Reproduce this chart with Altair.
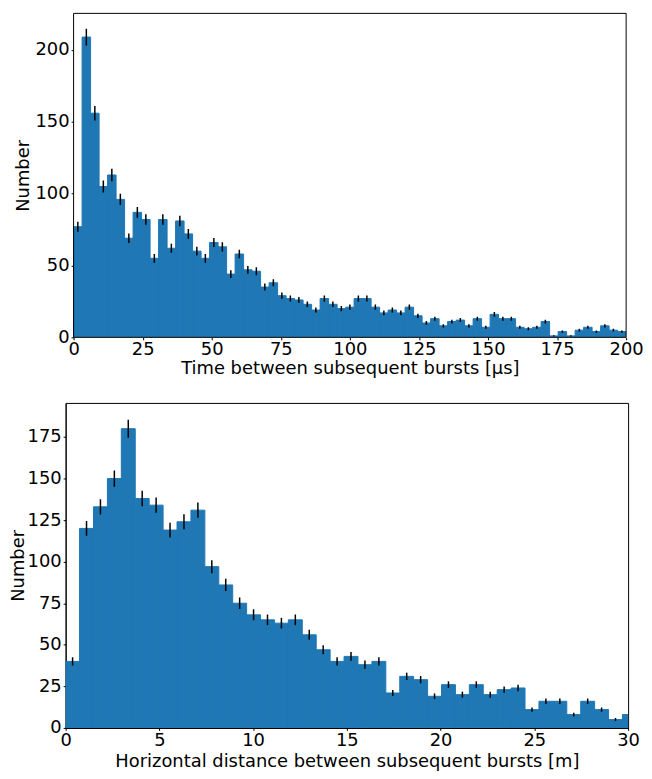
import altair as alt
import pandas as pd

# ---- Top histogram: time between subsequent bursts (µs), 65 bins over 0-200 ----
time_counts = [77, 209, 156, 105, 113, 96, 69, 87, 82, 55, 82, 62, 81, 72, 60, 55, 66, 63, 44, 58, 47, 46,
               35, 38, 29, 27, 26, 23, 19, 27, 23, 20, 21, 27, 27, 21, 17, 19, 17, 21, 15,
               10, 13, 8, 11, 12, 8, 13, 7, 16, 13, 13, 7,
               6, 7, 11, 1, 4, 1, 5, 7, 4, 8, 5, 4]
time_errors = [3.5, 5.8, 5.0, 4.1, 4.3, 3.9, 3.3, 3.7, 3.6, 3.0, 3.6, 3.1, 3.6, 3.4, 3.1, 3.0, 3.2, 3.2, 2.7, 3.0, 2.7, 2.7,
               2.4, 2.5, 2.2, 2.1, 2.0, 1.9, 1.7, 2.1, 1.9, 1.8, 1.8, 2.1, 2.1, 1.8, 1.6, 1.7, 1.6, 1.8, 1.5,
               1.3, 1.4, 1.1, 1.3, 1.4, 1.1, 1.4, 1.1, 1.6, 1.4, 1.4, 1.1,
               1.0, 1.1, 1.3, 0.4, 0.8, 0.4, 0.9, 1.1, 0.8, 1.1, 0.9, 0.8]
TIME_RANGE = (0, 200)
TIME_NBINS = 65
TIME_YMAX = 225.5
time_xticks = [0, 25, 50, 75, 100, 125, 150, 175, 200]
time_yticks = [0, 50, 100, 150, 200]

# ---- Bottom histogram: horizontal distance (m), bin width ~0.7425 m ----
dist_counts = [40, 120, 133, 150, 180, 138, 134, 119, 124, 131, 97, 86, 75, 68,
               65, 63, 65, 56, 47, 40, 43, 38, 40, 21, 31, 29, 19,
               26, 20, 26, 20, 23, 24, 11, 16, 16, 8, 16, 11, 5, 8]
dist_errors = [2.5, 4.4, 4.6, 4.9, 5.4, 4.7, 4.6, 4.4, 4.5, 4.6, 3.9, 3.7, 3.5, 3.3,
               3.2, 3.2, 3.2, 3.0, 2.7, 2.5, 2.6, 2.5, 2.5, 1.8, 2.2, 2.2, 1.7,
               2.0, 1.8, 2.0, 1.8, 1.9, 2.0, 1.3, 1.6, 1.6, 1.1, 1.6, 1.3, 0.9, 1.1]
DIST_BIN = 0.7425
DIST_YMAX = 195.5
dist_xticks = [0, 5, 10, 15, 20, 25, 30]
dist_yticks = [0, 25, 50, 75, 100, 125, 150, 175]

BAR_COLOR = "#1f77b4"
FONT = "DejaVu Sans"

# panel geometry (pixels)
BOTTOM_W, BOTTOM_H = 566, 327
TOP_INSET = 8                      # top panel's frame starts 8 px right of the bottom one
TOP_W, TOP_H = 564, 326            # top plot frame itself is 556 px wide


def make_df(counts, errors, width):
    n = len(counts)
    x0 = [i * width for i in range(n)]
    x1 = [(i + 1) * width for i in range(n)]
    df = pd.DataFrame({"x0": x0, "x1": x1, "count": counts, "err": errors})
    df["xc"] = (df["x0"] + df["x1"]) / 2
    df["lo"] = df["count"] - df["err"]
    df["hi"] = df["count"] + df["err"]
    df["base"] = 0
    return df


time_df = make_df(time_counts, time_errors, (TIME_RANGE[1] - TIME_RANGE[0]) / TIME_NBINS)
dist_df = make_df(dist_counts, dist_errors, DIST_BIN)

# ---------------- top panel ----------------
frame_w = TOP_W - TOP_INSET
x_lo = -TIME_RANGE[1] * TOP_INSET / frame_w
txs = alt.Scale(domain=[x_lo, TIME_RANGE[1]], nice=False, zero=False)
tys = alt.Scale(domain=[0, TIME_YMAX], nice=False)

tbase = alt.Chart(time_df)
t_bars = tbase.mark_rect(color=BAR_COLOR, stroke=BAR_COLOR, strokeWidth=1, clip=True).encode(
    x=alt.X("x0:Q", scale=txs,
            axis=alt.Axis(values=time_xticks, title="Time between subsequent bursts [µs]", format="d",
                          domain=False, titleX=TOP_W / 2 + TOP_INSET / 2, titlePadding=1)),
    x2="x1:Q",
    y=alt.Y("count:Q", scale=tys,
            axis=alt.Axis(values=time_yticks, title="Number", format="d", domain=False,
                          offset=-TOP_INSET, titlePadding=3)),
    y2="base:Q",
)
t_err = tbase.mark_rule(color="black", strokeWidth=1.5, clip=True).encode(
    x=alt.X("xc:Q", scale=txs), y=alt.Y("lo:Q", scale=tys), y2="hi:Q")

frame_df = pd.DataFrame({
    "fx": [TIME_RANGE[0], TIME_RANGE[1], TIME_RANGE[0], TIME_RANGE[0]],
    "fx2": [TIME_RANGE[0], TIME_RANGE[1], TIME_RANGE[1], TIME_RANGE[1]],
    "fy": [0, 0, 0, TIME_YMAX],
    "fy2": [TIME_YMAX, TIME_YMAX, 0, TIME_YMAX],
})
t_frame = alt.Chart(frame_df).mark_rule(color="black", strokeWidth=1).encode(
    x=alt.X("fx:Q", scale=txs), x2="fx2:Q", y=alt.Y("fy:Q", scale=tys), y2="fy2:Q")

top = alt.layer(t_bars, t_err, t_frame).properties(
    width=TOP_W, height=TOP_H, view=alt.ViewBackground(stroke="transparent"))

# ---------------- bottom panel ----------------
bxs = alt.Scale(domain=[0, 30], nice=False, zero=False)
bys = alt.Scale(domain=[0, DIST_YMAX], nice=False)
bbase = alt.Chart(dist_df)
b_bars = bbase.mark_rect(color=BAR_COLOR, stroke=BAR_COLOR, strokeWidth=1, clip=True).encode(
    x=alt.X("x0:Q", scale=bxs,
            axis=alt.Axis(values=dist_xticks, title="Horizontal distance between subsequent bursts [m]",
                          format="d", titlePadding=3)),
    x2="x1:Q",
    y=alt.Y("count:Q", scale=bys,
            axis=alt.Axis(values=dist_yticks, title="Number", format="d", titlePadding=0)),
    y2="base:Q",
)
b_err = bbase.mark_rule(color="black", strokeWidth=1.5, clip=True).encode(
    x=alt.X("xc:Q", scale=bxs), y=alt.Y("lo:Q", scale=bys), y2="hi:Q")
bottom = alt.layer(b_bars, b_err).properties(
    width=BOTTOM_W, height=BOTTOM_H, view=alt.ViewBackground(stroke="black", strokeWidth=1))

chart = alt.concat(top, bottom, columns=1, spacing=24).properties(
    padding={"left": 0, "top": 2, "right": 0, "bottom": 0},
).configure_axis(
    labelFont=FONT, titleFont=FONT, labelFontSize=18, titleFontSize=18,
    labelColor="black", titleColor="black", titleFontWeight="normal",
    tickColor="black", domainColor="black", domainWidth=1, tickWidth=1,
    tickSize=2.5, labelPadding=2, grid=False, labelFlush=False, labelOverlap=False,
).configure_axisX(labelPadding=1)

chart.save("out.html", embed_options={"renderer": "svg", "actions": False})
